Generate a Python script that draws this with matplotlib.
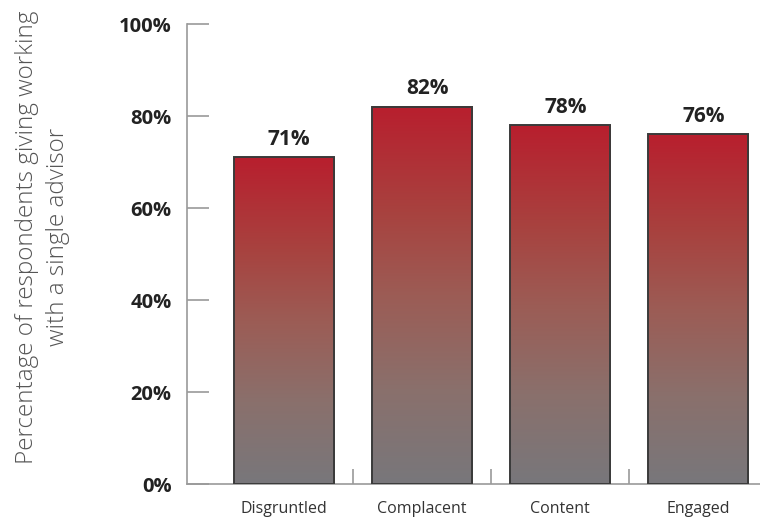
import matplotlib.pyplot as plt
import numpy as np
from matplotlib.colors import LinearSegmentedColormap

# Data
categories = ['Disgruntled', 'Complacent', 'Content', 'Engaged']
values = [71, 82, 78, 76]
y_ticks = [0, 20, 40, 60, 80, 100]

plt.rcParams['font.family'] = ['Open Sans', 'DejaVu Sans']

fig = plt.figure(figsize=(7.6, 5.21), dpi=100)
ax = fig.add_axes([187 / 760, 37 / 521, 1 - 187 / 760, 460 / 521])

x = np.arange(len(categories))
width = 0.725

# red at top fading to grey at the bottom
grad_cmap = LinearSegmentedColormap.from_list(
    'bar', [(0.0, '#78777b'), (0.25, '#8a706c'), (0.5, '#9c5c55'),
            (0.72, '#a8423f'), (1.0, '#b81f2e')])
grad = np.linspace(0, 1, 256).reshape(-1, 1)

bars = ax.bar(x, values, width, color='none', edgecolor='#3a3a3a', linewidth=1.4, zorder=3)
for b in bars:
    x0 = b.get_x()
    ax.imshow(grad, extent=[x0, x0 + b.get_width(), 0, b.get_height()],
              origin='lower', cmap=grad_cmap, aspect='auto', zorder=2)

for xi, v in zip(x, values):
    ax.text(xi + 0.04, v + 1.6, f'{v}%', ha='center', va='bottom',
            fontsize=15, fontweight='bold', color='#222222')

ax.set_xlim(-0.70, 3.45)
ax.set_ylim(0, 100)

ax.set_yticks(y_ticks)
ax.set_yticklabels([f'{t}%' for t in y_ticks], fontsize=14.5, fontweight='bold', color='#222222')
ax.tick_params(axis='y', direction='in', length=16, width=1.2, color='#9a9a9a', pad=11)

# x ticks sit between the categories; labels go under the bars
ax.set_xticks(x[:-1] + 0.5)
ax.set_xticklabels([])
ax.set_xticks(x, minor=True)
ax.set_xticklabels(categories, minor=True, fontsize=11.5, color='#333333')
ax.tick_params(axis='x', which='major', direction='in', length=11, width=1.2, color='#9a9a9a')
ax.tick_params(axis='x', which='minor', length=0, pad=12)

for side in ['top', 'right']:
    ax.spines[side].set_visible(False)
for side in ['left', 'bottom']:
    ax.spines[side].set_color('#9a9a9a')
    ax.spines[side].set_linewidth(1.2)

fig.text(0.056, 0.545, 'Percentage of respondents giving working\nwith a single advisor',
         rotation=90, ha='center', va='center', fontsize=17.5, color='#555555',
         fontweight='light', linespacing=1.4)

fig.savefig('out.png', dpi=100)
